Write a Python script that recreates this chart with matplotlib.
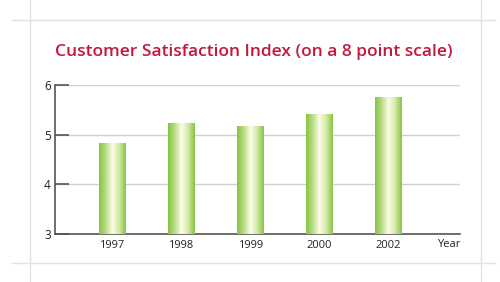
import matplotlib.pyplot as plt
import numpy as np
from matplotlib.colors import LinearSegmentedColormap
from matplotlib.lines import Line2D

years = ["1997", "1998", "1999", "2000", "2002"]
scores = [4.83, 5.23, 5.17, 5.41, 5.76]

plt.rcParams['font.family'] = ['Open Sans', 'DejaVu Sans']

fig = plt.figure(figsize=(5, 2.82), dpi=100)
fig.patch.set_facecolor("white")

# light frame lines around the card
for x in (30 / 500, 481 / 500):
    fig.add_artist(Line2D([x, x], [0, 1], color="#e2e2e2", lw=1))
for y in (1 - 20 / 282, 1 - 263 / 282):
    fig.add_artist(Line2D([12 / 500, 495 / 500], [y, y], color="#e2e2e2", lw=1))

ax = fig.add_axes([55 / 500, 1 - 234 / 282, 405 / 500, 149 / 282])
pos = np.arange(len(years))

cmap = LinearSegmentedColormap.from_list(
    "bar", ["#86c440", "#b9dc86", "#fdfce6", "#d3e9a6", "#86c440"])
grad = np.linspace(0, 1, 256).reshape(1, -1)

bars = ax.bar(pos, scores, width=0.39, color="none", zorder=3)
for b in bars:
    x0 = b.get_x()
    w = b.get_width()
    im = ax.imshow(grad, cmap=cmap, aspect="auto",
                   extent=[x0, x0 + w, 3, b.get_height()], zorder=3)
    im.set_clip_path(b)

ax.set_xlim(-0.826, 5.04)
ax.set_ylim(3, 6)

ax.set_yticks([3, 4, 5, 6])
ax.yaxis.grid(True, color="#d0d0d0", lw=1)
ax.set_axisbelow(True)
ax.set_xticks(pos)
ax.set_xticklabels(years)
ax.tick_params(axis="x", length=0, labelsize=8, colors="#222222", pad=4)
ax.tick_params(axis="y", direction="in", length=10, width=1.2,
               color="#555555", labelsize=8.5, labelcolor="#222222", pad=3)
for s in ("top", "right"):
    ax.spines[s].set_visible(False)
for s in ("left", "bottom"):
    ax.spines[s].set_color("#555555")
    ax.spines[s].set_linewidth(1.2)

ax.text(1.0, -0.035, "Year", transform=ax.transAxes, ha="right", va="top",
        fontsize=8, color="#222222")

fig.text(0.508, 1 - 52 / 282, "Customer Satisfaction Index (on a 8 point scale)",
         ha="center", va="center", fontsize=12.5, fontweight="semibold",
         color="#c2183f")

fig.savefig("out.png", dpi=100)
